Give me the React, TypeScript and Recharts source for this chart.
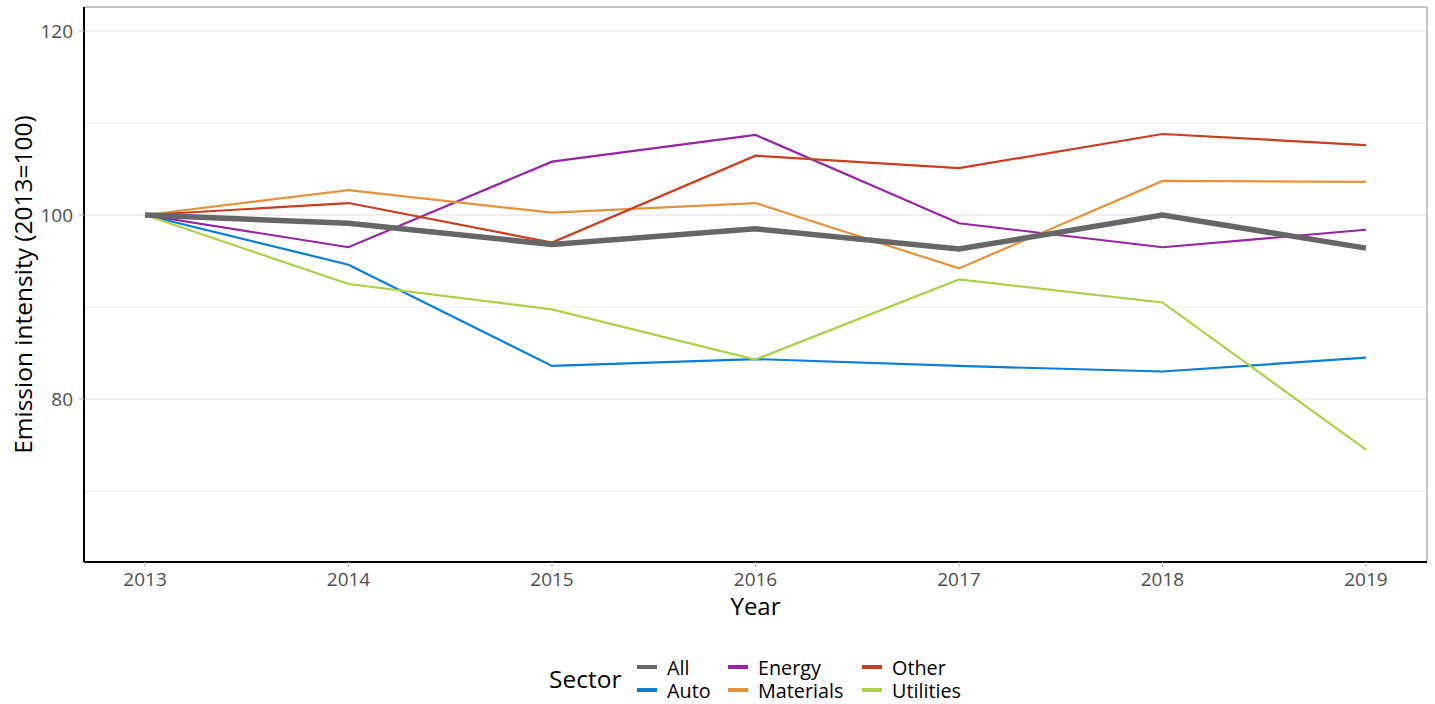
import React from 'react';
import { LineChart, Line, XAxis, YAxis, CartesianGrid, ReferenceLine, Legend, Label } from 'recharts';

const years = [2013, 2014, 2015, 2016, 2017, 2018, 2019];
const allValues = [100, 99.1, 96.8, 98.5, 96.3, 100.0, 96.4];
const autoValues = [100, 94.6, 83.6, 84.35, 83.6, 83.0, 84.5];
const energyValues = [100, 96.5, 105.8, 108.7, 99.1, 96.5, 98.4];
const materialsValues = [100, 102.7, 100.25, 101.3, 94.2, 103.7, 103.6];
const otherValues = [100, 101.3, 97.0, 106.45, 105.1, 108.8, 107.6];
const utilitiesValues = [100, 92.5, 89.75, 84.3, 93.0, 90.5, 74.5];

const yTicks = [80, 100, 120];
const yMinorTicks = [70, 90, 110];
const yDomain: [number, number] = [62.3, 122.6];
const xDomain: [number, number] = [2012.7, 2019.3];

const seriesColors: Record<string, string> = {
  All: '#666666',
  Auto: '#0B7DD6',
  Energy: '#9424A3',
  Materials: '#E4923A',
  Other: '#C93D20',
  Utilities: '#ADD04A',
};

const rows = years.map((year, i) => ({
  year,
  All: allValues[i],
  Auto: autoValues[i],
  Energy: energyValues[i],
  Materials: materialsValues[i],
  Other: otherValues[i],
  Utilities: utilitiesValues[i],
}));

const FONT = '"Open Sans", "Noto Sans", sans-serif';

const legendColumns = [
  ['All', 'Auto'],
  ['Energy', 'Materials'],
  ['Other', 'Utilities'],
];
const legendColLeft = [637, 728, 862];

const LegendContent = () => (
  <div style={{ position: 'relative', width: 1435, height: 82, fontFamily: FONT }}>
    <div style={{ position: 'absolute', left: 549, top: 44, fontSize: 24.5, color: '#000', lineHeight: '26px' }}>Sector</div>
    {legendColumns.map((col, ci) =>
      col.map((name, ri) => (
        <div key={name} style={{ position: 'absolute', left: legendColLeft[ci], top: 34 + ri * 23, height: 22, display: 'flex', alignItems: 'center' }}>
          <div style={{ width: 20, height: 4, background: seriesColors[name] }} />
          <span style={{ marginLeft: 10, fontSize: 19.8, color: '#000', lineHeight: '21px' }}>{name}</span>
        </div>
      ))
    )}
  </div>
);

const YTitle = (props: any) => {
  const vb = props.viewBox || { x: 0, y: 7, width: 84, height: 555 };
  const cx = 22;
  const cy = vb.y + vb.height / 2;
  return (
    <text x={cx} y={cy} textAnchor="middle" dominantBaseline="central" transform={`rotate(-90, ${cx}, ${cy})`} fontSize={24.5} fill="#000" fontFamily={FONT}>
      Emission intensity (2013=100)
    </text>
  );
};

export default function App() {
  const lineOrder = ['Auto', 'Energy', 'Materials', 'Other', 'Utilities', 'All'];
  return (
    <div style={{ position: 'absolute', left: 0, top: 0, width: 1435, height: 704, background: '#fff' }}>
      <LineChart width={1435} height={704} data={rows} margin={{ top: 7, right: 8, left: 0, bottom: 0 }} style={{ fontFamily: FONT }}>
        {yMinorTicks.map((v) => (
          <ReferenceLine key={v} y={v} stroke="#f0f0f0" strokeWidth={1} />
        ))}
        <CartesianGrid vertical={false} stroke="#dedede" strokeWidth={1} />
        <ReferenceLine y={yDomain[1]} stroke="#b3b3b3" strokeWidth={1.5} />
        <ReferenceLine x={xDomain[1]} stroke="#b3b3b3" strokeWidth={1.5} />
        <XAxis
          dataKey="year"
          type="number"
          domain={xDomain}
          ticks={years}
          allowDataOverflow
          height={60}
          axisLine={{ stroke: '#000', strokeWidth: 2 }}
          tickLine={{ stroke: '#b3b3b3' }}
          tickSize={5}
          tickMargin={6}
          tick={{ fontSize: 19, fill: '#4d4d4d', fontFamily: FONT }}
        >
          <Label value="Year" position="insideBottom" offset={7} style={{ fontSize: 24, fill: '#000', fontFamily: FONT }} />
        </XAxis>
        <YAxis
          type="number"
          domain={yDomain}
          ticks={yTicks}
          allowDataOverflow
          width={84}
          axisLine={{ stroke: '#000', strokeWidth: 2 }}
          tickLine={{ stroke: '#b3b3b3' }}
          tickSize={5}
          tickMargin={6}
          tick={{ fontSize: 19, fill: '#4d4d4d', fontFamily: FONT }}
        >
          <Label content={<YTitle />} />
        </YAxis>
        <Legend verticalAlign="bottom" height={82} content={<LegendContent />} wrapperStyle={{ left: 0, width: 1435 }} />
        {lineOrder.map((name) => (
          <Line
            key={name}
            type="linear"
            dataKey={name}
            stroke={seriesColors[name]}
            strokeWidth={name === 'All' ? 5.5 : 2.2}
            dot={false}
            activeDot={false}
            isAnimationActive={false}
            legendType="plainline"
          />
        ))}
      </LineChart>
    </div>
  );
}
